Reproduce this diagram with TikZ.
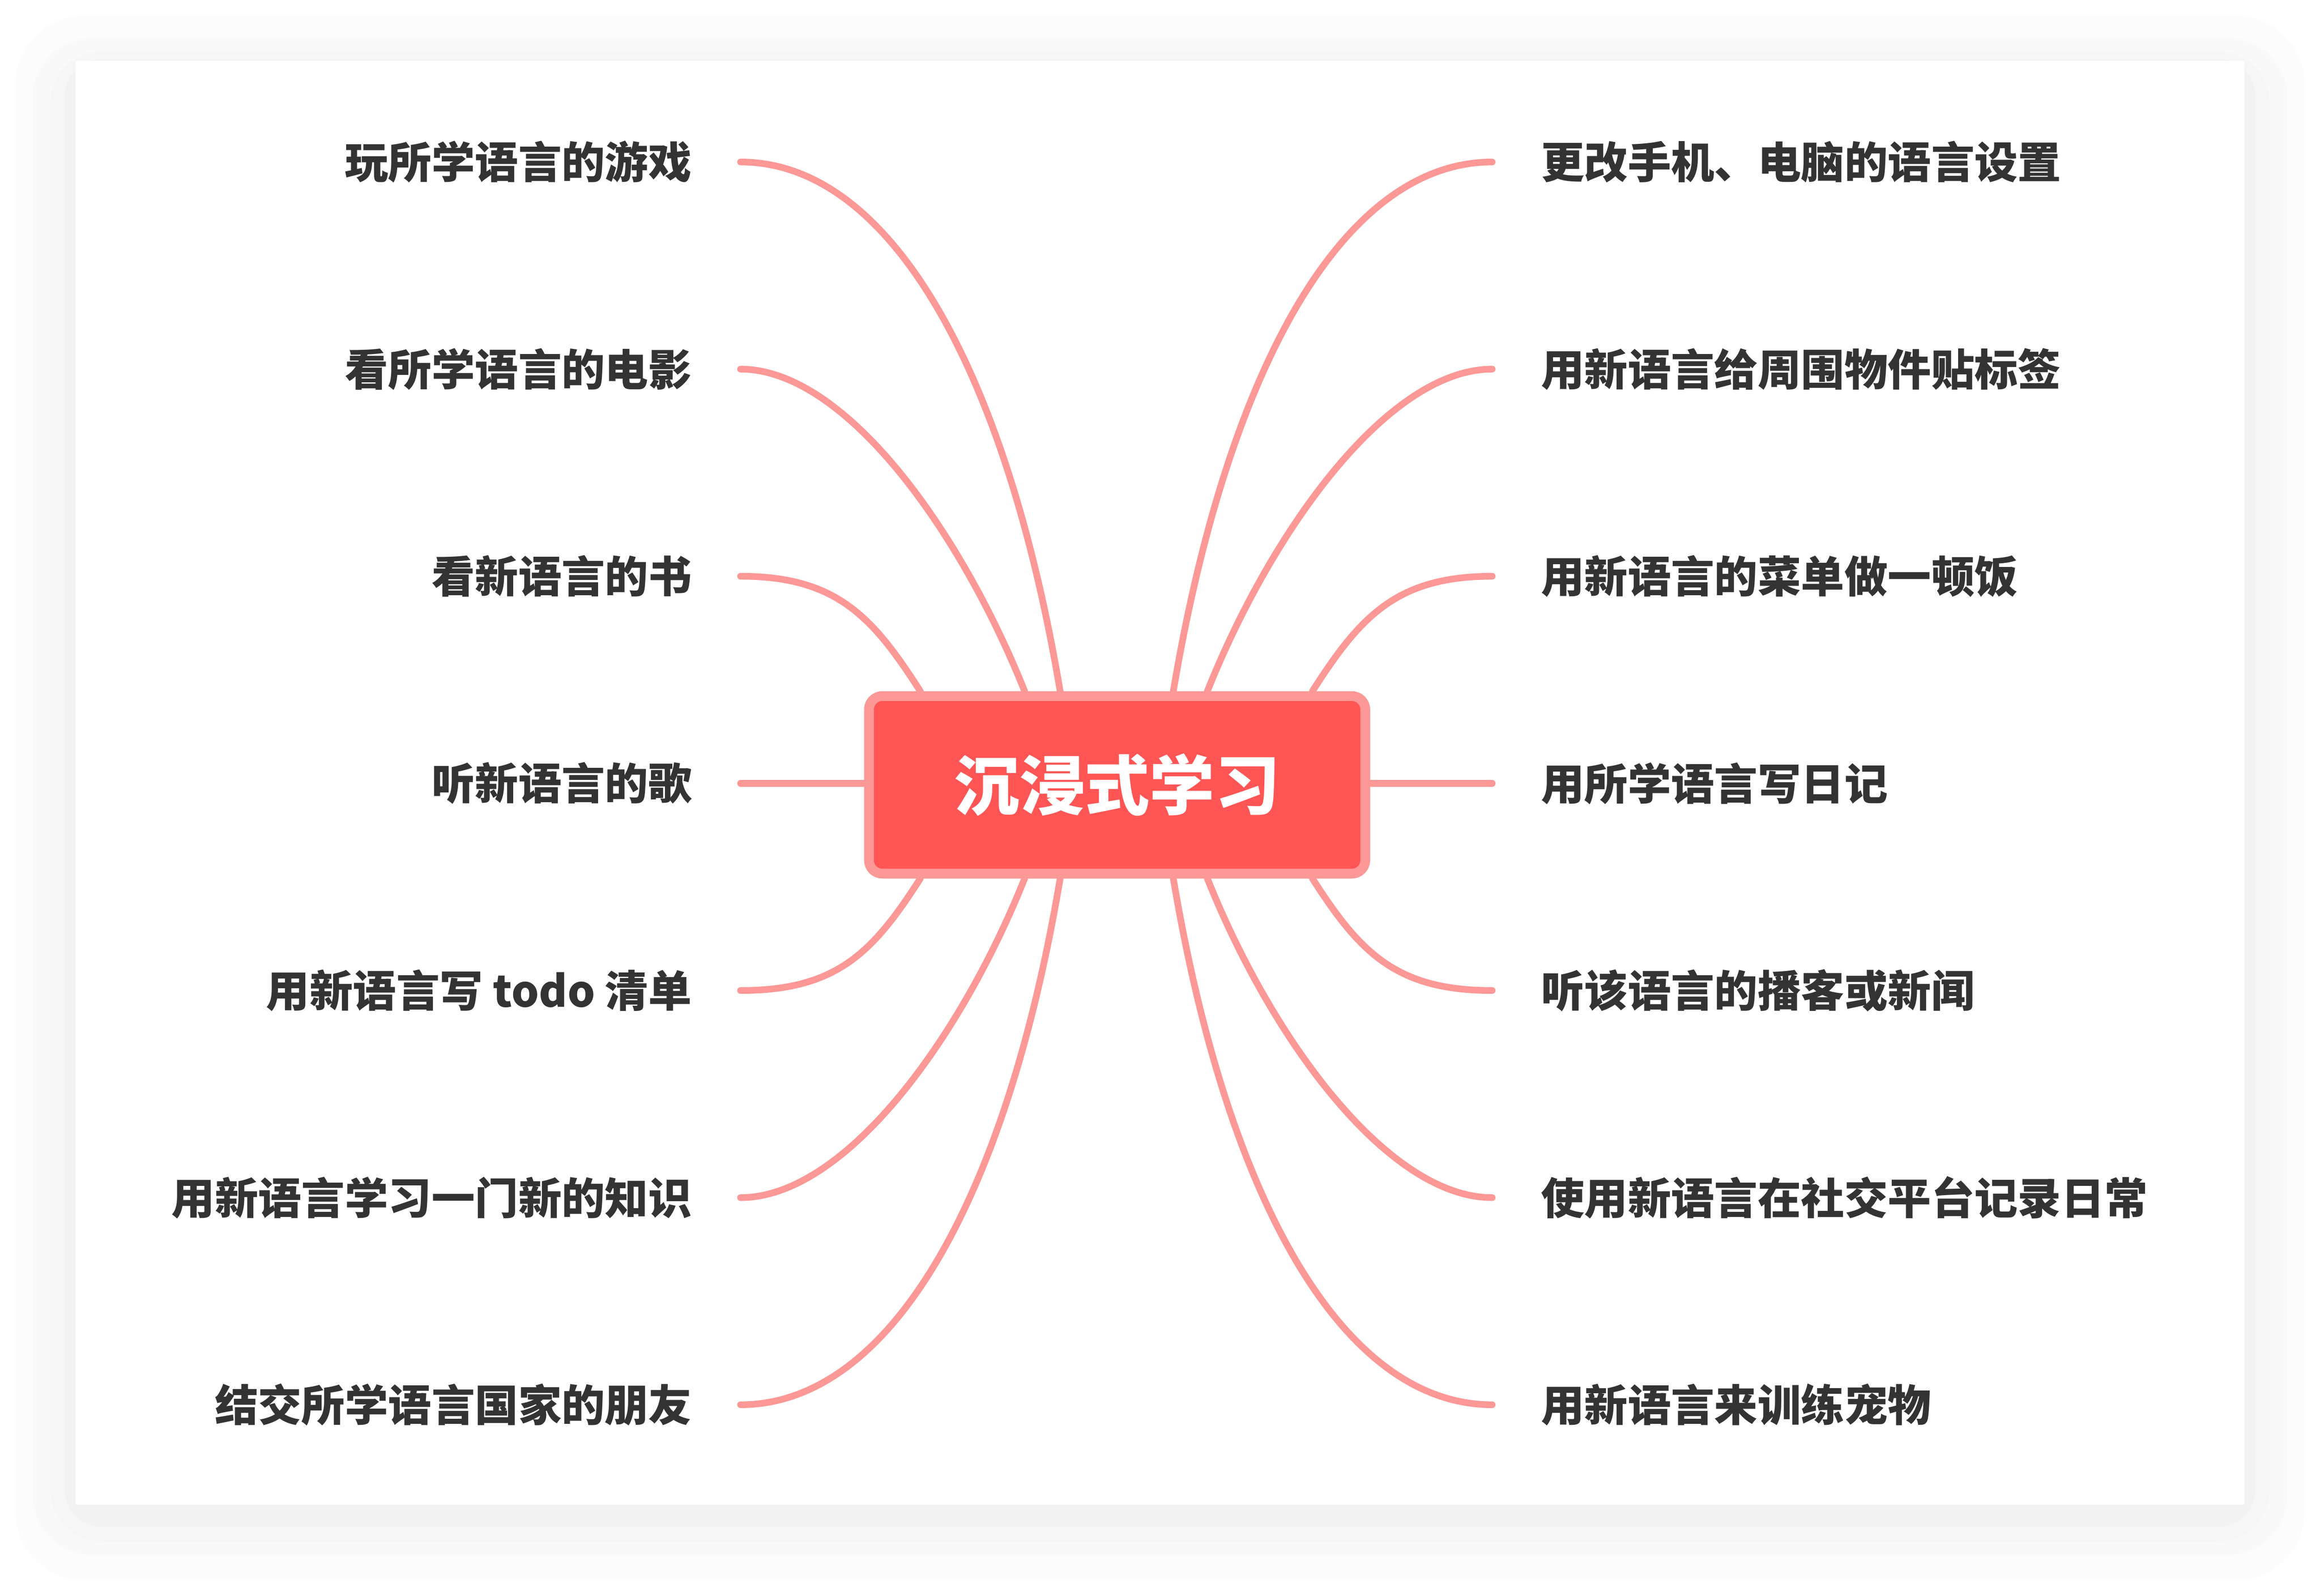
\documentclass[tikz,border=0pt]{standalone}
\usepackage{fontspec}
\newfontfamily\cjkfont{Noto Sans CJK SC}
\definecolor{linkpink}{HTML}{FC9896}
\definecolor{hubred}{HTML}{FF5555}
\definecolor{labelgray}{HTML}{333333}
\definecolor{shadeA}{HTML}{FCFCFC}
\definecolor{shadeB}{HTML}{F9F9F9}
\definecolor{shadeC}{HTML}{F6F6F6}
\definecolor{shadeD}{HTML}{F2F2F2}
\tikzset{
  topic/.style={font=\cjkfont\bfseries\fontsize{29.3}{34}\selectfont, text=labelgray, inner sep=0pt, outer xsep=33pt},
  hub/.style={rectangle, rounded corners=9pt, fill=hubred, draw=linkpink, line width=6.6pt,
    minimum width=335.4pt, minimum height=120pt, text=white, font=\cjkfont\bfseries\fontsize{44}{50}\selectfont},
  link/.style={draw=linkpink, line width=4.5pt, line cap=round}
}

\begin{document}
\begin{tikzpicture}[x=1pt, y=-1pt]
    \useasboundingbox (0,0) rectangle (1568,1078.6);
    % shadow and card
    \fill[shadeA, rounded corners=45pt] (11,11) rectangle (1557,1068);
    \fill[shadeB, rounded corners=40pt] (22,26) rectangle (1546,1051);
    \fill[shadeC, rounded corners=35pt] (34,35) rectangle (1534,1042);
    \fill[shadeD, rounded corners=25pt] (44,40) rectangle (1524,1032);
    \fill[white] (51,41) rectangle (1517,1017);

    \node[hub] (hub) at (755,530.5) {沉浸式学习};

    \node[topic, anchor=east] (l1) at (500.5,109.5) {玩所学语言的游戏};
    \node[topic, anchor=east] (l2) at (500.5,249.5) {看所学语言的电影};
    \node[topic, anchor=east] (l3) at (500.5,389.5) {看新语言的书};
    \node[topic, anchor=east] (l4) at (500.5,529.5) {听新语言的歌};
    \node[topic, anchor=east] (l5) at (500.5,669.5) {用新语言写 todo 清单};
    \node[topic, anchor=east] (l6) at (500.5,809.5) {用新语言学习一门新的知识};
    \node[topic, anchor=east] (l7) at (500.5,949.5) {结交所学语言国家的朋友};

    \node[topic, anchor=west] (r1) at (1008.5,109.5) {更改手机、电脑的语言设置};
    \node[topic, anchor=west] (r2) at (1008.5,249.5) {用新语言给周围物件贴标签};
    \node[topic, anchor=west] (r3) at (1008.5,389.5) {用新语言的菜单做一顿饭};
    \node[topic, anchor=west] (r4) at (1008.5,529.5) {用所学语言写日记};
    \node[topic, anchor=west] (r5) at (1008.5,669.5) {听该语言的播客或新闻};
    \node[topic, anchor=west] (r6) at (1008.5,809.5) {使用新语言在社交平台记录日常};
    \node[topic, anchor=west] (r7) at (1008.5,949.5) {用新语言来训练宠物};

    % left branches
    \draw[link] (l1.east) .. controls +(100,0) and +(-37,-220) .. ([xshift=-38.5pt]hub.north);
    \draw[link] (l2.east) .. controls +(70,0) and +(-44,-110) .. ([xshift=-62.5pt]hub.north);
    \draw[link] (l3.east) .. controls +(65,0) and +(-32,-50) .. ([xshift=-133pt]hub.north);
    \draw[link] (l4.east) -- (l4.east -| hub.west);
    \draw[link] (l5.east) .. controls +(65,0) and +(-32,50) .. ([xshift=-133pt]hub.south);
    \draw[link] (l6.east) .. controls +(70,0) and +(-44,110) .. ([xshift=-62.5pt]hub.south);
    \draw[link] (l7.east) .. controls +(100,0) and +(-37,220) .. ([xshift=-38.5pt]hub.south);

    % right branches
    \draw[link] (r1.west) .. controls +(-100,0) and +(37,-220) .. ([xshift=38pt]hub.north);
    \draw[link] (r2.west) .. controls +(-70,0) and +(44,-110) .. ([xshift=61pt]hub.north);
    \draw[link] (r3.west) .. controls +(-65,0) and +(32,-50) .. ([xshift=132pt]hub.north);
    \draw[link] (r4.west) -- (r4.west -| hub.east);
    \draw[link] (r5.west) .. controls +(-65,0) and +(32,50) .. ([xshift=132pt]hub.south);
    \draw[link] (r6.west) .. controls +(-70,0) and +(44,110) .. ([xshift=61pt]hub.south);
    \draw[link] (r7.west) .. controls +(-100,0) and +(37,220) .. ([xshift=38pt]hub.south);
\end{tikzpicture}
\end{document}
